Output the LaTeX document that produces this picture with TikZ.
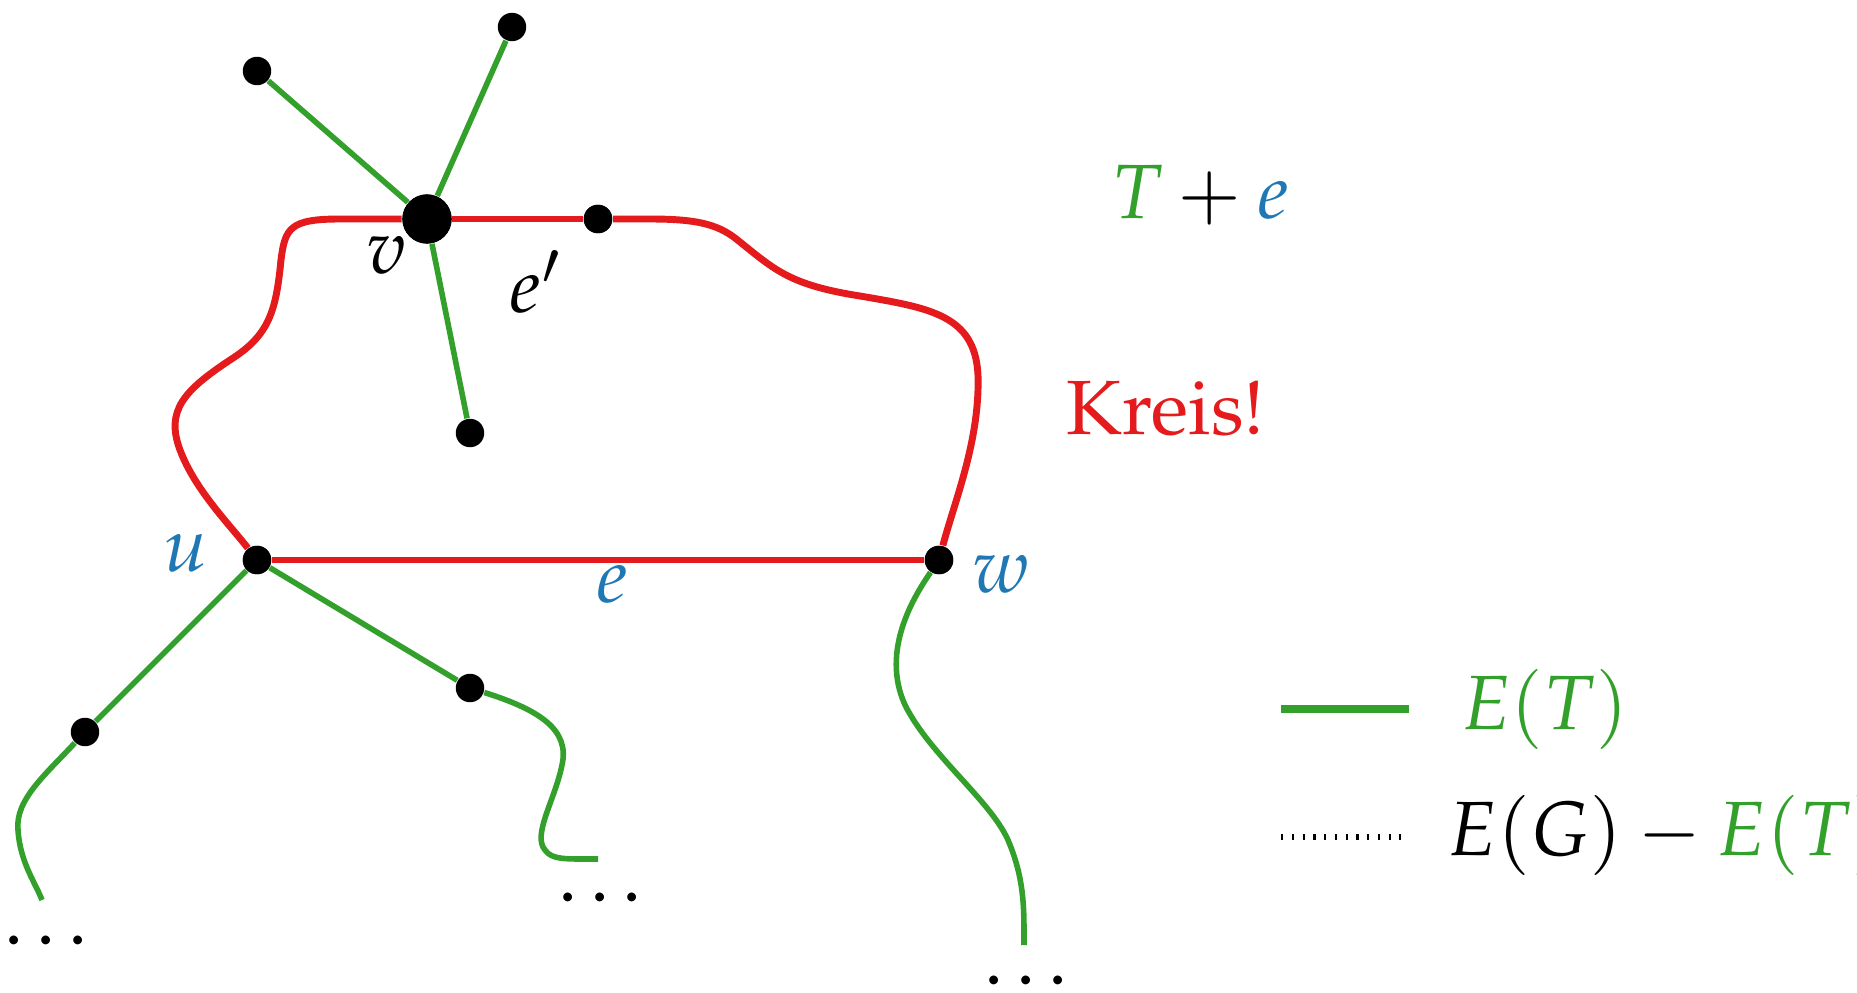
\documentclass[tikz,border=0pt]{standalone}
\usepackage[T1]{fontenc}
\usepackage{mathpazo}
\usepackage{amsmath}
\usepackage{tikz}
\usetikzlibrary{positioning}
\definecolor{kred}{RGB}{228,26,28}
\definecolor{tgreen}{RGB}{51,160,44}
\definecolor{eblue}{RGB}{31,120,180}

\begin{document}
\begin{tikzpicture}[x=0.26pt,y=-0.26pt,
    font=\fontsize{20}{24}\selectfont,
    vx/.style={circle,fill=black,inner sep=0pt,minimum size=7.4pt},
    bigvx/.style={circle,fill=black,inner sep=0pt,minimum size=12.8pt},
    tree/.style={draw=tgreen,line width=1.45pt},
    cyc/.style={draw=kred,line width=1.8pt},
    pts/.style={inner sep=1pt}]
    \useasboundingbox (0,0) rectangle (1857,993);

    % knoten
    \node[bigvx] (v) at (427,219) {};
    \node[vx] (ep) at (598,219) {};
    \node[vx] (l1) at (257,71) {};
    \node[vx] (l2) at (512,27) {};
    \node[vx] (l3) at (470,433) {};
    \node[vx] (u) at (257,560) {};
    \node[vx] (w) at (939,560) {};
    \node[vx] (a) at (85,732) {};
    \node[vx] (b) at (470,688) {};
    \coordinate (aend) at (42,900);
    \coordinate (bend) at (598,859);
    \coordinate (wend) at (1024,945);

    % baum
    \draw[tree] (v) -- (l1);
    \draw[tree] (v) -- (l2);
    \draw[tree] (v) -- (l3);
    \draw[tree] (u) -- (a);
    \draw[tree] (a) .. controls (45,775) and (15,800) .. (18,830)
        .. controls (20,862) and (35,882) .. (aend);
    \draw[tree] (u) -- (b);
    \draw[tree] (b) .. controls (540,710) and (570,730) .. (562,765)
        .. controls (555,800) and (532,835) .. (545,850)
        .. controls (552,860) and (565,859) .. (bend);
    \draw[tree] (w) .. controls (915,595) and (880,650) .. (905,705)
        .. controls (930,755) and (990,800) .. (1008,840)
        .. controls (1025,880) and (1024,910) .. (wend);

    % kreis
    \draw[cyc] (v) -- (ep);
    \draw[cyc] (v) -- (340,219) .. controls (290,219) and (285,228) .. (281,260)
        .. controls (276,310) and (270,335) .. (230,360)
        .. controls (185,390) and (165,410) .. (180,450)
        .. controls (195,490) and (230,525) .. (u);
    \draw[cyc] (ep) -- (650,219) .. controls (700,219) and (720,225) .. (740,242)
        .. controls (775,270) and (790,285) .. (860,296)
        .. controls (930,308) and (975,315) .. (978,375)
        .. controls (980,440) and (955,500) .. (w);
    \draw[cyc] (u) -- (w);
    \node[bigvx] at (v) {};
    \node[vx] at (u) {};
    \node[vx] at (w) {};
    \node[vx] at (ep) {};

    % beschriftung
    \node (vl) at (387,255) {$v$};
    \node (epl) at (536,282) {$e'$};
    \node[text=eblue] (ul) at (186,553) {$u$};
    \node[text=eblue] (el) at (612,584) {$e$};
    \node[text=eblue] (wl) at (1001,574) {$w$};
    \node[pts] (ad) at (46,940) {.\hspace{3.3pt}.\hspace{3.3pt}.};
    \node[pts] (bd) at (600,897) {.\hspace{3.3pt}.\hspace{3.3pt}.};
    \node[pts] (wd) at (1026,980) {.\hspace{3.3pt}.\hspace{3.3pt}.};
    \node (te) at (1200,195) {$\textcolor{tgreen}{T}+\textcolor{eblue}{e}$};
    \node[text=kred] (kr) at (1166,409) {Kreis!};

    % legende
    \coordinate (g1) at (1281,709);
    \coordinate (g2) at (1409,709);
    \coordinate (d1) at (1281,837);
    \coordinate (d2) at (1401,837);
    \draw[draw=tgreen,line width=2pt] (g1) -- (g2);
    \draw[dash pattern=on 0.6pt off 2.2pt,line width=1.6pt] (d1) -- (d2);
    \node[right=0.35cm of g2,text=tgreen] (et) {$E(T)$};
    \node[anchor=west] (egt) at (1434,835) {$E(G)-\textcolor{tgreen}{E(T)}$};
\end{tikzpicture}
\end{document}
